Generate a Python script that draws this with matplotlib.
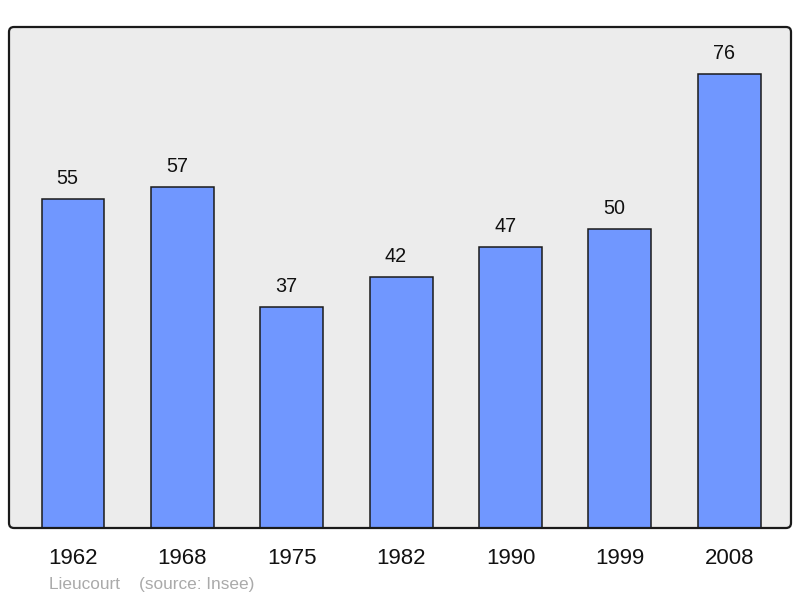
import matplotlib.pyplot as plt
from matplotlib.patches import FancyBboxPatch

plt.rcParams['font.family'] = ['Liberation Sans', 'DejaVu Sans']

years = ['1962', '1968', '1975', '1982', '1990', '1999', '2008']
population = [55, 57, 37, 42, 47, 50, 76]

fig = plt.figure(figsize=(8, 5.98), dpi=100)
W, H = 800, 598
left, right, top, bottom = 9, 791, 27, 528
ax = fig.add_axes([left / W, (H - bottom) / H, (right - left) / W, (bottom - top) / H])
ax.set_facecolor('#ececec')

x = range(len(years))
ax.bar(x, population, width=0.575, color='#7097ff', edgecolor='#1a1a1a', linewidth=1.1, zorder=2)

# value labels sit a bit left of the bar centre, like the original
for xi, v in zip(x, population):
    ax.annotate(str(v), (xi, v), xytext=(-3.8, 14.8), textcoords='offset points',
                ha='center', va='center', fontsize=14.2, color='#111111')

ax.set_xlim(-0.585, 6.565)
ax.set_ylim(0, 83.8)
ax.set_yticks([])
ax.set_xticks(list(x))
ax.set_xticklabels(years, fontsize=16, color='#111111')
ax.tick_params(axis='x', length=0, pad=14.5)
for s in ax.spines.values():
    s.set_visible(False)

# rounded frame around the plot area
frame = FancyBboxPatch((left / 100, (H - bottom) / 100), (right - left) / 100, (bottom - top) / 100,
                       boxstyle='round,pad=0,rounding_size=0.05',
                       transform=fig.dpi_scale_trans, fill=False,
                       edgecolor='#1a1a1a', linewidth=1.6, zorder=5)
fig.patches.append(frame)

fig.text(49 / W, 1 - 584 / H, 'Lieucourt    (source: Insee)', fontsize=12.4,
         color='#aaaaaa', ha='left', va='center')

fig.savefig('out.png', dpi=100)
